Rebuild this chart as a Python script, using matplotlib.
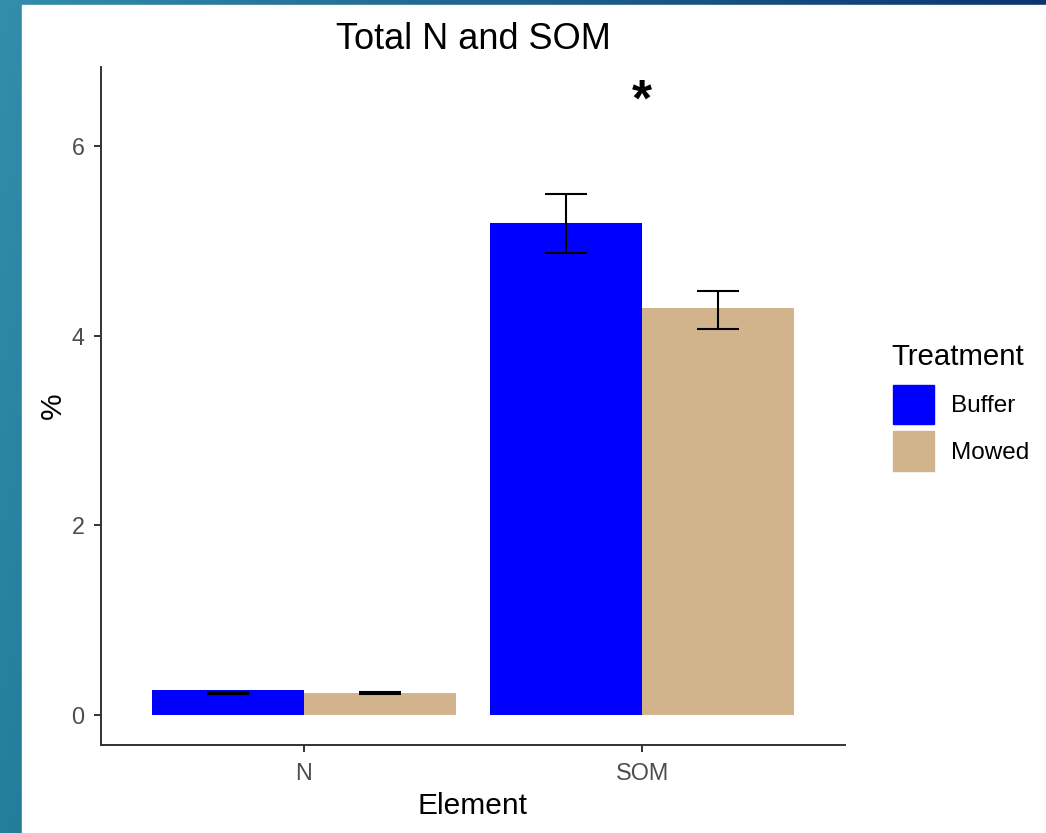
import numpy as np
import matplotlib.pyplot as plt
from matplotlib.patches import Rectangle, Patch

plt.rcParams['font.family'] = ['Liberation Sans', 'DejaVu Sans']

# data
elements = ['N', 'SOM']
treatments = ['Buffer', 'Mowed']
colors = ['#0000FF', '#D2B48C']
buffer_mean = [0.263, 5.19]
mowed_mean = [0.237, 4.285]
buffer_low = [0.225, 4.865]
buffer_high = [0.240, 5.495]
mowed_low = [0.225, 4.065]
mowed_high = [0.240, 4.465]
star_label = '*'
star_element = 'SOM'
star_y = 6.32

W, H = 1046, 833
fig = plt.figure(figsize=(W / 100, H / 100), dpi=100)

# slide background behind the chart (teal to navy band on left/top)
bg = fig.add_axes([0, 0, 1, 1], zorder=-10)
teal = np.array([50, 142, 170]) / 255
navy = np.array([10, 48, 108]) / 255
gx = np.linspace(0, 1, 200)[None, :, None]
gy = np.linspace(0, 1, 100)[:, None, None]
grad = teal + (navy - teal) * gx * 0.95 - 0.06 * gy
bg.imshow(np.clip(grad, 0, 1), aspect='auto', extent=[0, 1, 0, 1], origin='upper')
bg.add_patch(Rectangle((22 / W, 0), 1, 1 - 5 / H, color='white', transform=bg.transAxes))
bg.set_xlim(0, 1)
bg.set_ylim(0, 1)
bg.axis('off')

ax = fig.add_axes([101 / W, 1 - 745 / H, 744 / W, 678 / H])
ax.set_facecolor('none')

x = np.arange(1, len(elements) + 1)
w = 0.45
means = [buffer_mean, mowed_mean]
lows = [buffer_low, mowed_low]
highs = [buffer_high, mowed_high]
for i, t in enumerate(treatments):
    pos = x + (i - 0.5) * w
    ax.bar(pos, means[i], width=w, color=colors[i], label=t, zorder=2)
    ax.vlines(pos, lows[i], highs[i], color='black', lw=1.5, zorder=3)
    ax.hlines(lows[i], pos - 0.062, pos + 0.062, color='black', lw=1.5, zorder=3)
    ax.hlines(highs[i], pos - 0.062, pos + 0.062, color='black', lw=1.5, zorder=3)

ax.text(x[elements.index(star_element)], star_y, star_label, ha='center', va='baseline',
        fontsize=37, fontweight='bold', color='black')

ax.set_xlim(0.4, 2.6)
ax.set_ylim(-0.316, 6.83)
ax.set_xticks(x)
ax.set_xticklabels(elements)
ax.set_yticks([0, 2, 4, 6])
for s in ['top', 'right']:
    ax.spines[s].set_visible(False)
for s in ['left', 'bottom']:
    ax.spines[s].set_color('#333333')
    ax.spines[s].set_linewidth(1.4)
ax.tick_params(colors='#333333', width=1.4, length=5, labelsize=16.8, labelcolor='#4D4D4D', pad=7)

ax.set_xlabel('Element', fontsize=21.5, labelpad=5)
ax.set_ylabel('%', fontsize=21.5, labelpad=3)
ax.set_title('Total N and SOM', fontsize=26, pad=13)

# legend: title as separate text, keys below it
fig.text(891 / W, 1 - 357 / H, 'Treatment', fontsize=21.2, va='center', ha='left')
handles = [Patch(color=c) for c in colors]
fig.legend(handles, treatments, loc='upper left',
           bbox_to_anchor=(893 / W, 1 - 385 / H), frameon=False, fontsize=17.5,
           handlelength=1.7, handleheight=2.1,
           labelspacing=0.3, handletextpad=0.7, borderpad=0, borderaxespad=0)

fig.savefig('out.png', dpi=100)
